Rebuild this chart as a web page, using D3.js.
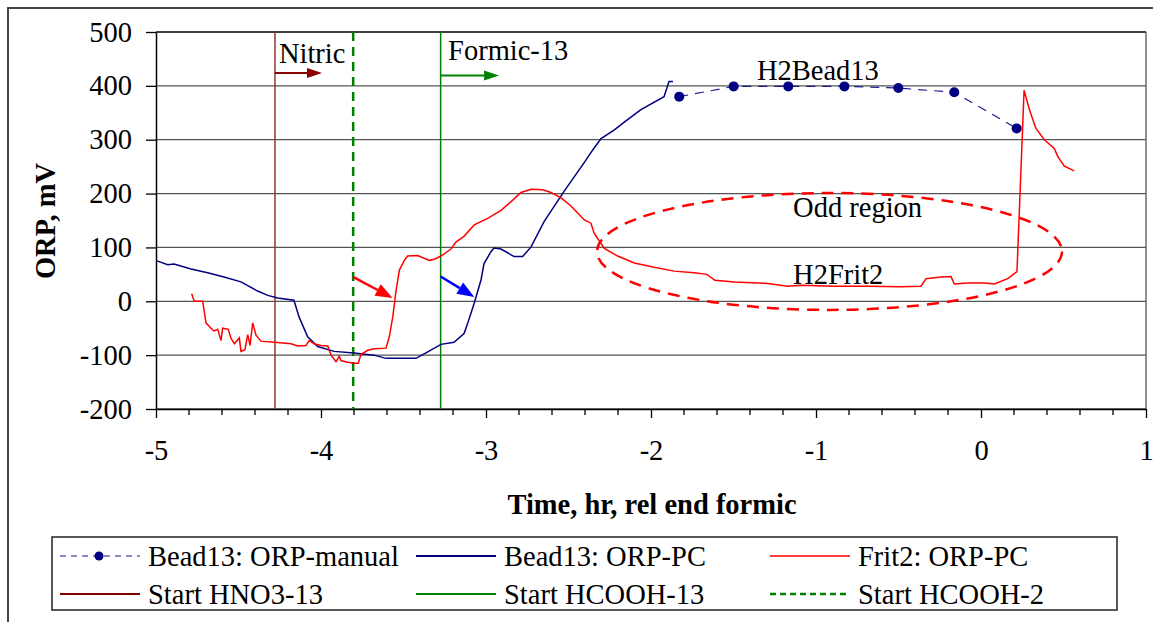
<!DOCTYPE html>
<html><head><meta charset="utf-8">
<script src="https://cdn.jsdelivr.net/npm/d3@7"></script>
<style>
body{margin:0;background:#fff}
svg text{font-family:"Liberation Serif","Times New Roman",Times,"DejaVu Serif",serif !important;fill:#000}
</style>
</head><body>
<svg id="c" width="1153" height="622" font-family="Liberation Serif, Times New Roman, serif"></svg>
<script>
// ---------- DATA ----------
const xTicks = [-5, -4, -3, -2, -1, 0, 1];
const yTicks = [-200, -100, 0, 100, 200, 300, 400, 500];

const manualTime = [-1.829, -1.499, -1.168, -0.828, -0.501, -0.162, 0.216];
const manualORP  = [380, 399, 399, 399, 396, 388, 321];

const beadTime = [-4.994,-4.929,-4.891,-4.788,-4.687,-4.588,-4.485,-4.384,-4.323,-4.262,-4.164,-4.133,-4.081,-4.020,-3.921,-3.800,-3.679,-3.606,-3.424,-3.353,-3.273,-3.194,-3.133,-3.111,-3.073,-3.030,-3.012,-2.970,-2.952,-2.909,-2.830,-2.778,-2.727,-2.648,-2.527,-2.406,-2.353,-2.303,-2.224,-2.152,-2.061,-1.921,-1.891,-1.867];
const beadORP  = [75,68,69,60,53,45,36,19,11,6,2,-29,-66,-84,-93,-96,-100,-106,-106,-94,-80,-76,-60,-41,-5,40,70,92,99,97,83,83,101,148,204,257,281,302,318,335,356,380,408,408];

const fritTime = [-4.784,-4.768,-4.717,-4.697,-4.667,-4.648,-4.626,-4.606,-4.596,-4.562,-4.545,-4.525,-4.495,-4.485,-4.461,-4.444,-4.430,-4.414,-4.394,-4.364,-4.283,-4.182,-4.141,-4.091,-4.071,-4.041,-4.000,-3.959,-3.939,-3.909,-3.889,-3.879,-3.838,-3.798,-3.774,-3.758,-3.717,-3.677,-3.606,-3.586,-3.565,-3.545,-3.525,-3.495,-3.475,-3.414,-3.344,-3.313,-3.273,-3.212,-3.182,-3.132,-3.071,-2.990,-2.909,-2.848,-2.788,-2.727,-2.656,-2.606,-2.545,-2.485,-2.404,-2.364,-2.344,-2.283,-2.202,-2.101,-1.980,-1.859,-1.738,-1.662,-1.612,-1.495,-1.293,-1.172,-1.091,-0.889,-0.687,-0.485,-0.364,-0.333,-0.242,-0.182,-0.162,-0.081,0.020,0.081,0.162,0.218,0.261,0.293,0.333,0.384,0.444,0.465,0.505,0.565];
const fritORP  = [14,0,0,-40,-50,-55,-52,-73,-50,-52,-69,-79,-68,-93,-90,-62,-82,-40,-63,-74,-76,-79,-83,-82,-73,-79,-82,-83,-100,-112,-102,-110,-113,-115,-115,-99,-91,-88,-87,-66,-29,20,58,76,84,85,76,78,84,97,110,121,142,154,169,185,202,208,207,202,192,177,151,145,126,98,84,71,63,56,53,50,39,36,33,28,30,28,28,27,28,42,45,46,32,34,34,32,42,55,392,356,321,300,284,269,251,242];

const eventNames = ["Start HNO3-13", "Start HCOOH-13", "Start HCOOH-2"];
const eventTime  = [-4.279, -3.275, -3.805];

const legendNames = ["Bead13: ORP-manual", "Bead13: ORP-PC", "Frit2: ORP-PC",
                     "Start HNO3-13", "Start HCOOH-13", "Start HCOOH-2"];

const noteTexts = ["Nitric", "Formic-13", "H2Bead13", "Odd region", "H2Frit2"];
const noteTime  = [-4.255, -3.230, -1.358, -1.139, -1.139];
const noteORP   = [442, 448, 411, 157, 32];

// ---------- LAYOUT ----------
const svg = d3.select("#c");
const L = 156, R = 1146, T = 32, B = 409;
const x = d3.scaleLinear().domain([-5, 1]).range([L, R]);
const y = d3.scaleLinear().domain([-200, 500]).range([B, T]);
const FONT = 28.5;
const FF = "Liberation Serif, Times New Roman, serif";

const colors = {
  manual: "#000080", bead: "#000080", frit: "#ff0000",
  hno3: "#993333", hcooh13: "#008000", hcooh2: "#008000"
};

// outer frame
svg.append("rect").attr("x", 8).attr("y", 8).attr("width", 1170).attr("height", 660)
  .attr("fill", "none").attr("stroke", "#444").attr("stroke-width", 2);

// gridlines
svg.append("g").selectAll("line").data(yTicks).join("line")
  .attr("x1", L).attr("x2", R).attr("y1", d => y(d)).attr("y2", d => y(d))
  .attr("stroke", d => d === 500 ? "#000" : "#555").attr("stroke-width", 1.3);

// right border
svg.append("line").attr("x1", R).attr("x2", R).attr("y1", T).attr("y2", B)
  .attr("stroke", "#555").attr("stroke-width", 1.3);

// y axis
const yAx = svg.append("g").attr("transform", `translate(${L},0)`)
  .call(d3.axisLeft(y).tickValues(yTicks).tickSize(10).tickPadding(14).tickSizeOuter(0).tickFormat(d => String(d)));
yAx.attr("font-family", FF);
yAx.select(".domain").attr("stroke", "#000").attr("stroke-width", 1.5);
yAx.selectAll(".tick line").attr("stroke", "#000").attr("stroke-width", 1.3);
yAx.selectAll("text").attr("font-size", FONT).attr("fill", "#000");

// x axis minor ticks
const minor = d3.range(-5, 1.0001, 0.2).filter(v => Math.abs(v - Math.round(v)) > 1e-6);
svg.append("g").selectAll("line").data(minor).join("line")
  .attr("x1", d => x(d)).attr("x2", d => x(d)).attr("y1", B).attr("y2", B + 6)
  .attr("stroke", "#000").attr("stroke-width", 1.3);
const xAx = svg.append("g").attr("transform", `translate(0,${B})`)
  .call(d3.axisBottom(x).tickValues(xTicks).tickSize(9).tickPadding(22).tickSizeOuter(0).tickFormat(d => String(d)));
xAx.attr("font-family", FF);
xAx.select(".domain").attr("stroke", "#000").attr("stroke-width", 1.5);
xAx.selectAll(".tick line").attr("stroke", "#000").attr("stroke-width", 1.3);
xAx.selectAll("text").attr("font-size", FONT).attr("fill", "#000");

// axis titles
svg.append("text").attr("x", 652).attr("y", 514).attr("text-anchor", "middle")
  .attr("font-size", FONT).attr("font-weight", "bold").text("Time, hr, rel end formic");
svg.append("text").attr("transform", "translate(55,221) rotate(-90)").attr("text-anchor", "middle")
  .attr("font-size", FONT).attr("font-weight", "bold").text("ORP, mV");

// event vertical lines
const evStyle = [
  {c: colors.hno3, w: 1.5, d: null},
  {c: colors.hcooh13, w: 1.5, d: null},
  {c: colors.hcooh2, w: 2.5, d: "9,6"}
];
svg.append("g").selectAll("line").data(eventTime).join("line")
  .attr("x1", d => x(d)).attr("x2", d => x(d)).attr("y1", T).attr("y2", B)
  .attr("stroke", (d, i) => evStyle[i].c).attr("stroke-width", (d, i) => evStyle[i].w)
  .attr("stroke-dasharray", (d, i) => evStyle[i].d);

// lines
const line = d3.line().x(d => x(d[0])).y(d => y(d[1]));
const beadPts = beadTime.map((t, i) => [t, beadORP[i]]);
const fritPts = fritTime.map((t, i) => [t, fritORP[i]]);
const manPts = manualTime.map((t, i) => [t, manualORP[i]]);

svg.append("path").attr("d", line(beadPts)).attr("fill", "none")
  .attr("stroke", colors.bead).attr("stroke-width", 1.5);
svg.append("path").attr("d", line(fritPts)).attr("fill", "none")
  .attr("stroke", colors.frit).attr("stroke-width", 1.5);
svg.append("path").attr("d", line(manPts)).attr("fill", "none")
  .attr("stroke", "#1a1a90").attr("stroke-width", 1.2).attr("stroke-dasharray", "9,7");
svg.append("g").selectAll("circle").data(manPts).join("circle")
  .attr("cx", d => x(d[0])).attr("cy", d => y(d[1])).attr("r", 5).attr("fill", colors.manual);

// ellipse "Odd region"
const ellCx = -0.918, ellCy = 92.5, ellRx = 1.409, ellRy = 108.5;
svg.append("ellipse")
  .attr("cx", x(ellCx)).attr("cy", y(ellCy))
  .attr("rx", x(ellCx + ellRx) - x(ellCx)).attr("ry", y(ellCy) - y(ellCy + ellRy))
  .attr("fill", "none").attr("stroke", "#ff0000").attr("stroke-width", 2.5)
  .attr("stroke-dasharray", "12,8");

// arrows
function arrow(x0, y0, x1, y1, color, w, hl, hw) {
  const px0 = x(x0), py0 = y(y0), px1 = x(x1), py1 = y(y1);
  const a = Math.atan2(py1 - py0, px1 - px0);
  const bx = px1 - hl * Math.cos(a), by = py1 - hl * Math.sin(a);
  svg.append("line").attr("x1", px0).attr("y1", py0).attr("x2", bx).attr("y2", by)
    .attr("stroke", color).attr("stroke-width", w);
  const nx = -Math.sin(a) * hw / 2, ny = Math.cos(a) * hw / 2;
  svg.append("polygon").attr("points",
    `${px1},${py1} ${bx + nx},${by + ny} ${bx - nx},${by - ny}`).attr("fill", color);
}
const arrowFrom = [[-4.279, 424], [-3.275, 419], [-3.806, 45.5], [-3.275, 46]];
const arrowTo   = [[-3.994, 424], [-2.921, 419], [-3.566, 6], [-3.071, 8]];
const arrowCol  = ["#8b0000", "#008000", "#ff0000", "#0000ff"];
const arrowW    = [2, 2, 2.5, 2.5];
arrowFrom.forEach((f, i) => {
  const big = i >= 2;
  arrow(f[0], f[1], arrowTo[i][0], arrowTo[i][1], arrowCol[i], arrowW[i], big ? 17 : 15, big ? 13 : 10);
});

// notes
svg.append("g").selectAll("text").data(noteTexts).join("text")
  .attr("x", (d, i) => x(noteTime[i])).attr("y", (d, i) => y(noteORP[i]))
  .attr("font-size", FONT).text(d => d);

// legend
svg.append("rect").attr("x", 52).attr("y", 537).attr("width", 1065).attr("height", 73)
  .attr("fill", "#fff").attr("stroke", "#222").attr("stroke-width", 1.5);
const legColX = [60, 416, 770], legRowY = [556, 594];
const legStyle = [
  {c: "#6666b0", w: 1.5, d: "6,5", dot: true},
  {c: "#000080", w: 2, d: null},
  {c: "#ff4040", w: 2, d: null},
  {c: "#800000", w: 2, d: null},
  {c: "#008000", w: 2, d: null},
  {c: "#008000", w: 2.5, d: "6,4"}
];
legendNames.forEach((name, i) => {
  const cx = legColX[i % 3], cy = legRowY[Math.floor(i / 3)], s = legStyle[i];
  svg.append("line").attr("x1", cx).attr("x2", cx + 80).attr("y1", cy).attr("y2", cy)
    .attr("stroke", s.c).attr("stroke-width", s.w).attr("stroke-dasharray", s.d);
  if (s.dot) svg.append("circle").attr("cx", cx + 39).attr("cy", cy).attr("r", 4.5).attr("fill", "#000080");
  svg.append("text").attr("x", cx + 88).attr("y", cy + 10).attr("font-size", FONT).text(name);
});
</script>
</body></html>
